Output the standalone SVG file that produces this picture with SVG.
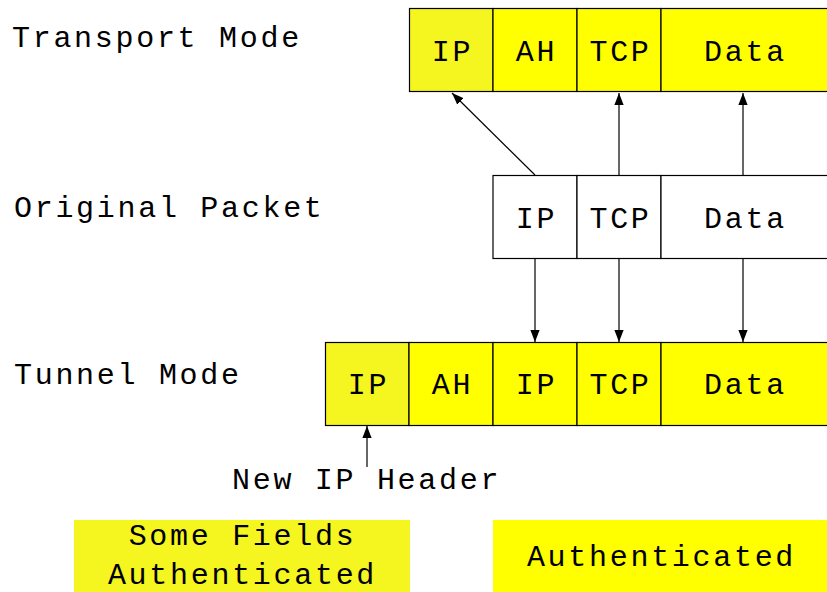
<svg xmlns="http://www.w3.org/2000/svg" width="827" height="592" viewBox="0 0 827 592">
<style>
text{font-family:"Liberation Mono","DejaVu Sans Mono",monospace;font-size:30px;letter-spacing:2.7px;fill:#000}
.c{text-anchor:middle}
.cell{stroke:#000;stroke-width:1.2}
.y{fill:#ffff00}
.ly{fill:#f5f520}
.w{fill:#fff}
.con line{stroke:#000;stroke-width:1.2;marker-end:url(#ah)}
</style>
<defs>
<marker id="ah" markerUnits="userSpaceOnUse" markerWidth="12" markerHeight="14" refX="13" refY="5" orient="auto" viewBox="0 0 13 10">
<path d="M0,0 L13,5 L0,10 z" fill="#000"/>
</marker>
</defs>
<rect width="827" height="592" fill="#fff"/>
<g id="labels">
<text x="12" y="47">Transport Mode</text>
<text x="14" y="217">Original Packet</text>
<text x="14" y="384">Tunnel Mode</text>
</g>
<g id="transport">
<rect class="cell ly" x="409.5" y="8.5" width="83.5" height="83"/>
<rect class="cell y" x="493" y="8.5" width="84" height="83"/>
<rect class="cell y" x="577" y="8.5" width="84" height="83"/>
<rect class="cell y" x="661" y="8.5" width="170" height="83"/>
<text class="c" x="452.5" y="61">IP</text>
<text class="c" x="536.5" y="61">AH</text>
<text class="c" x="620.5" y="61">TCP</text>
<text class="c" x="745.5" y="61">Data</text>
</g>
<g id="original">
<rect class="cell w" x="493" y="175.5" width="84" height="83"/>
<rect class="cell w" x="577" y="175.5" width="84" height="83"/>
<rect class="cell w" x="661" y="175.5" width="170" height="83"/>
<text class="c" x="536.5" y="228">IP</text>
<text class="c" x="620.5" y="228">TCP</text>
<text class="c" x="745.5" y="228">Data</text>
</g>
<g id="tunnel">
<rect class="cell ly" x="325.5" y="342.5" width="83.5" height="83"/>
<rect class="cell y" x="409" y="342.5" width="84" height="83"/>
<rect class="cell y" x="493" y="342.5" width="84" height="83"/>
<rect class="cell y" x="577" y="342.5" width="84" height="83"/>
<rect class="cell y" x="661" y="342.5" width="170" height="83"/>
<text class="c" x="368.5" y="394">IP</text>
<text class="c" x="452.5" y="394">AH</text>
<text class="c" x="536.5" y="394">IP</text>
<text class="c" x="620.5" y="394">TCP</text>
<text class="c" x="745.5" y="394">Data</text>
</g>
<g id="newip">
<text x="232" y="489">New IP Header</text>
</g>
<g id="legend-some">
<rect class="ly" x="74" y="520" width="336" height="72"/>
<text class="c" x="242.5" y="545">Some Fields</text>
<text class="c" x="242.5" y="584">Authenticated</text>
</g>
<g id="legend-auth">
<rect class="y" x="493" y="520" width="334" height="72"/>
<text class="c" x="661.5" y="566">Authenticated</text>
</g>
<g class="con" id="connectors">
<line x1="535" y1="175" x2="452" y2="93"/>
<line x1="619" y1="175" x2="619" y2="93"/>
<line x1="743" y1="175" x2="743" y2="93"/>
<line x1="535" y1="259" x2="535" y2="342"/>
<line x1="619" y1="259" x2="619" y2="342"/>
<line x1="743" y1="259" x2="743" y2="342"/>
<line x1="367" y1="467" x2="367" y2="426"/>
</g>
</svg>
